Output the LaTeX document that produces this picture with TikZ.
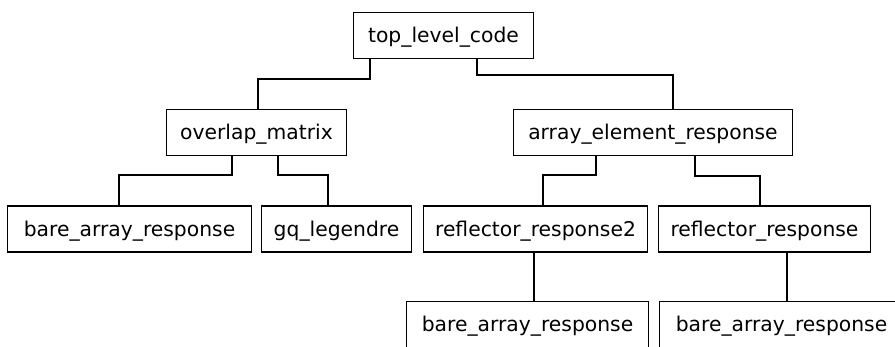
\documentclass[tikz,border=0pt]{standalone}
\usepackage{fontspec}
\setmainfont{DejaVu Sans}
\usetikzlibrary{positioning}
\tikzset{
  routine/.style={draw, line width=1.2pt, minimum height=46pt, inner sep=0pt,
                  text height=14.5pt, text depth=0pt,
                  font=\fontsize{20.3}{24}\selectfont},
  link/.style={line width=1.2pt}
}

\begin{document}
\begin{tikzpicture}[x=1pt, y=-1pt]
    \useasboundingbox (0,0) rectangle (895,347);
    \clip (0,0) rectangle (895,347);

    % Root routine
    \node[routine, minimum width=180pt] (top) at (443.5,35.5) {top\_level\_code};

    % Second level
    \node[routine, minimum width=180pt] (overlap) at (256.5,132.5) {overlap\_matrix};
    \node[routine, minimum width=279pt] (element) at (653,132.5) {array\_element\_response};

    % Third level
    \node[routine, minimum width=244pt] (bareA) at (129.5,229) {bare\_array\_response};
    \node[routine, minimum width=150pt] (gauss) at (336.5,229) {gq\_legendre};
    \node[routine, minimum width=224pt] (reflB) at (535.5,229) {reflector\_response2};
    \node[routine, minimum width=212pt] (reflA) at (764.5,229) {reflector\_response};

    % Fourth level (cut by the frame)
    \node[routine, minimum width=242pt] (bareB) at (527.5,324.5) {bare\_array\_response};
    \node[routine, minimum width=244pt] (bareC) at (781.5,324.5) {bare\_array\_response};

    % Calls
    \draw[link] ([xshift=17]top.south west) -- ++(0,20) -| ([xshift=92]overlap.north west);
    \draw[link] ([xshift=124]top.south west) -- ++(0,16) -| ([xshift=160]element.north west);
    \draw[link] ([xshift=66]overlap.south west) -- ++(0,19) -| ([xshift=112]bareA.north west);
    \draw[link] ([xshift=112]overlap.south west) -- ++(0,19) -| ([xshift=67]gauss.north west);
    \draw[link] ([xshift=83]element.south west) -- ++(0,19) -| ([xshift=120]reflB.north west);
    \draw[link] ([xshift=182]element.south west) -- ++(0,20) -| ([xshift=102]reflA.north west);
    \draw[link] ([xshift=111]reflB.south west) -- ([xshift=111]reflB.south west |- bareB.north);
    \draw[link] ([xshift=129]reflA.south west) -- ([xshift=129]reflA.south west |- bareC.north);
\end{tikzpicture}
\end{document}
